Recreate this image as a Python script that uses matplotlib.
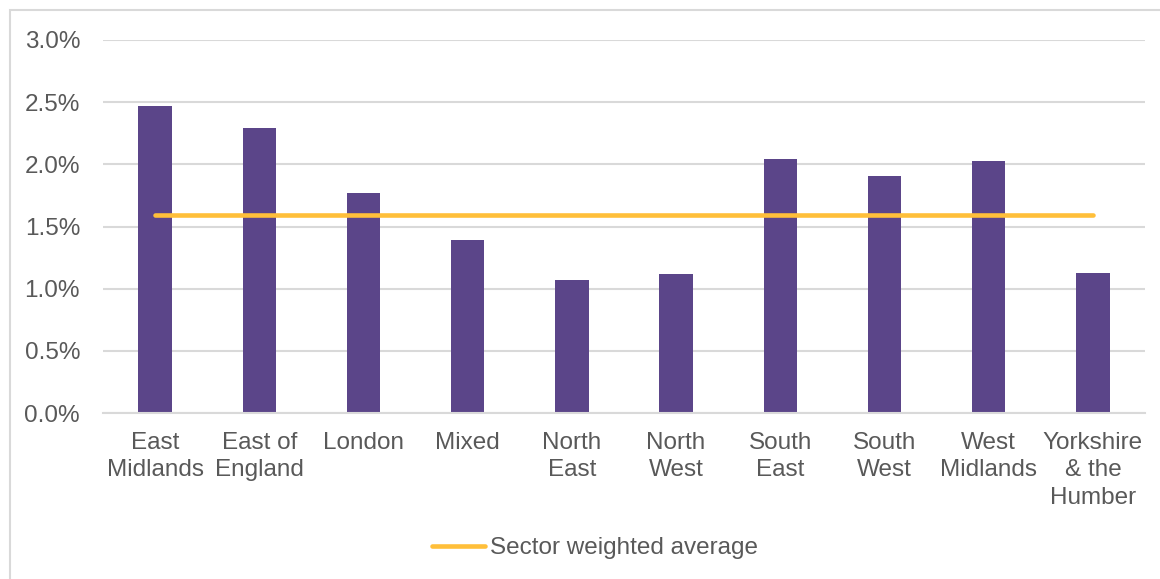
import matplotlib
matplotlib.use("Agg")
import matplotlib.pyplot as plt
from matplotlib.patches import Rectangle
from matplotlib.lines import Line2D
from matplotlib.ticker import FuncFormatter, MultipleLocator

categories = ["East\nMidlands", "East of\nEngland", "London", "Mixed", "North\nEast",
              "North\nWest", "South\nEast", "South\nWest", "West\nMidlands",
              "Yorkshire\n& the\nHumber"]
rate = [2.47, 2.29, 1.77, 1.39, 1.07, 1.12, 2.04, 1.91, 2.03, 1.13]
sector_avg = 1.59

bar_color = "#5B4589"
line_color = "#FFBF3A"
text_color = "#595959"
grid_color = "#D9D9D9"
font_size = 17.5

plt.rcParams["font.family"] = ["Liberation Sans", "DejaVu Sans"]

W, H = 1160, 579
fig = plt.figure(figsize=(W / 100, H / 100), dpi=100)
fig.patches.append(Rectangle((10 / W, -0.01), 1.2, 1 - 10 / H + 0.01,
                             transform=fig.transFigure, fill=False,
                             edgecolor="#D9D9D9", linewidth=1.5))

ax = fig.add_axes([103 / W, 1 - 413 / H, (1145 - 103) / W, (413 - 40) / H])

x = list(range(len(categories)))
ax.bar(x, rate, width=0.32, color=bar_color, zorder=2)
ax.plot([x[0], x[-1]], [sector_avg, sector_avg], color=line_color, linewidth=3.3,
        solid_capstyle="round", zorder=3)

ax.set_xlim(-0.5, len(categories) - 0.5)
ax.set_ylim(0, 3.0)
ax.yaxis.set_major_locator(MultipleLocator(0.5))
ax.yaxis.set_major_formatter(FuncFormatter(lambda v, p: f"{v:.1f}%"))
ax.grid(axis="y", color=grid_color, linewidth=1.5, zorder=0)
ax.set_axisbelow(True)
for s in ["top", "right", "left"]:
    ax.spines[s].set_visible(False)
ax.spines["bottom"].set_color(grid_color)
ax.spines["bottom"].set_linewidth(1.5)

ax.set_xticks(x)
ax.set_xticklabels(categories, linespacing=1.32)
ax.tick_params(axis="both", length=0, labelsize=font_size, colors=text_color)
ax.tick_params(axis="x", pad=13.5)
ax.tick_params(axis="y", pad=16.5)

handle = Line2D([], [], color=line_color, linewidth=3.3, solid_capstyle="round")
fig.legend([handle], ["Sector weighted average"], loc="center",
           bbox_to_anchor=(595 / W, 1 - 548 / H), frameon=False,
           fontsize=font_size, labelcolor=text_color, handlelength=2.2,
           handletextpad=0.2)

fig.savefig("out.png", dpi=100, facecolor="white")
